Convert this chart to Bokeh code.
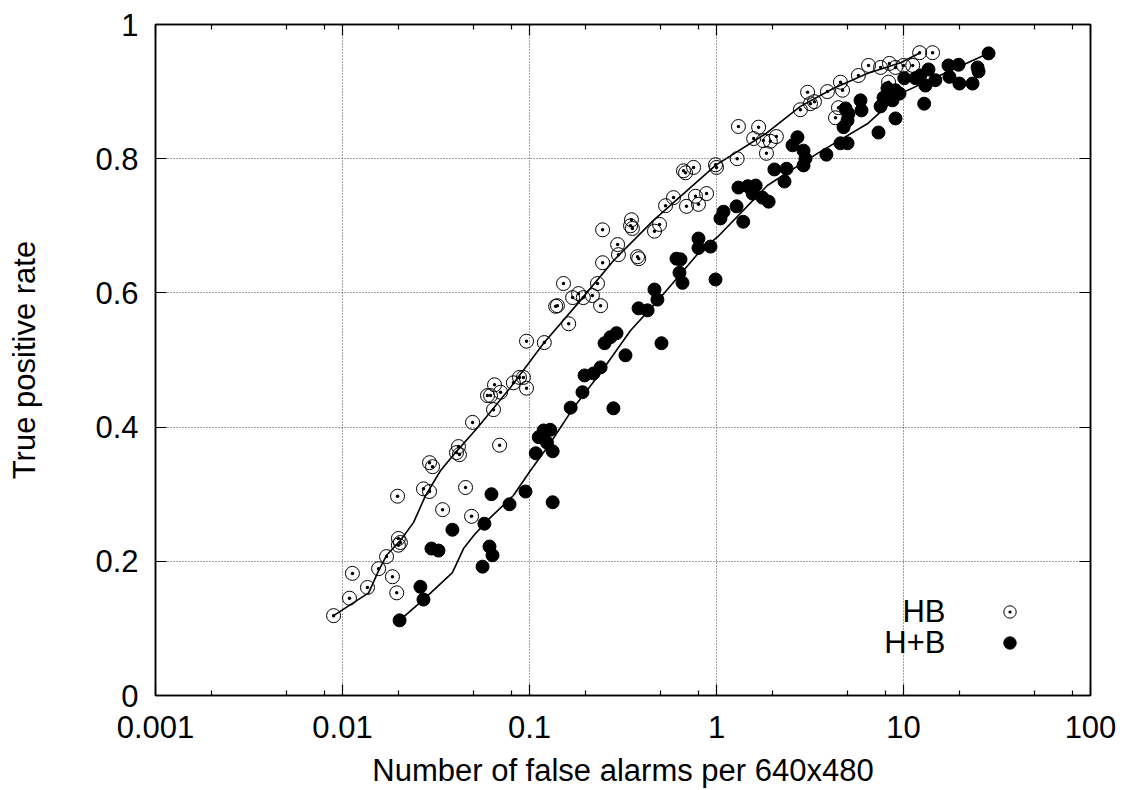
from bokeh.plotting import figure
from bokeh.models import (Range1d, FixedTicker, LogAxis, LinearAxis, CustomJSTickFormatter,
                          Legend, LegendItem, Label)
from bokeh.core.properties import value
from bokeh.embed import file_html
from bokeh.resources import INLINE

# ---------------- data ----------------
x_ticks = [0.001, 0.01, 0.1, 1, 10, 100]
x_tick_labels = ["0.001", "0.01", "0.1", "1", "10", "100"]
y_ticks = [0, 0.2, 0.4, 0.6, 0.8, 1]
y_tick_labels = ["0", "0.2", "0.4", "0.6", "0.8", "1"]
series_names = ["HB", "H+B"]

hb_x = [0.00896, 0.0109, 0.0113, 0.0136, 0.0156, 0.0172, 0.0185, 0.0195, 0.0199, 0.0204,
        0.0199, 0.0197, 0.0292, 0.0303, 0.0271, 0.0292, 0.0343, 0.0417, 0.0422, 0.0407,
        0.0455, 0.0490, 0.0692, 0.0496, 0.0642, 0.0596, 0.0619, 0.0650, 0.0700, 0.0820,
        0.0884, 0.0928, 0.0964, 0.0964, 0.120, 0.162, 0.138, 0.141, 0.152, 0.170,
        0.183, 0.194, 0.217, 0.231, 0.240, 0.246, 0.246, 0.296, 0.299, 0.347,
        0.355, 0.378, 0.384, 0.466, 0.496, 0.351, 0.534, 0.589, 0.666, 0.683,
        0.754, 0.691, 0.772, 0.801, 0.885, 0.988, 1.00, 1.29, 1.31, 1.58,
        1.68, 1.78, 1.85, 1.94, 2.09, 2.81, 3.07, 3.34, 3.92, 4.33,
        4.49, 4.60, 4.72, 5.74, 6.50, 7.54, 8.32, 8.41, 9.06, 10.0,
        11.2, 12.2, 14.3, 3.18]
hb_y = [0.119, 0.145, 0.182, 0.161, 0.189, 0.207, 0.177, 0.153, 0.234, 0.228,
        0.224, 0.297, 0.347, 0.341, 0.308, 0.304, 0.277, 0.371, 0.359, 0.362,
        0.310, 0.267, 0.373, 0.407, 0.426, 0.447, 0.447, 0.463, 0.452, 0.466,
        0.474, 0.474, 0.458, 0.528, 0.526, 0.554, 0.580, 0.581, 0.614, 0.593,
        0.599, 0.593, 0.596, 0.614, 0.581, 0.645, 0.694, 0.672, 0.657, 0.700,
        0.696, 0.654, 0.651, 0.692, 0.702, 0.709, 0.730, 0.742, 0.782, 0.779,
        0.787, 0.729, 0.744, 0.732, 0.748, 0.791, 0.787, 0.800, 0.848, 0.830,
        0.847, 0.827, 0.808, 0.826, 0.833, 0.873, 0.899, 0.885, 0.900, 0.861,
        0.876, 0.914, 0.902, 0.924, 0.939, 0.936, 0.914, 0.942, 0.936, 0.939,
        0.939, 0.958, 0.958, 0.882]

hpb_x = [0.0202, 0.0271, 0.0261, 0.0387, 0.0299, 0.0326, 0.0626, 0.0782, 0.0952, 0.0574,
         0.0611, 0.0634, 0.0561, 0.108, 0.112, 0.119, 0.129, 0.133, 0.124, 0.133,
         0.166, 0.192, 0.197, 0.220, 0.240, 0.281, 0.326, 0.252, 0.271, 0.292,
         0.383, 0.428, 0.466, 0.483, 0.508, 0.611, 0.642, 0.634, 0.658, 0.801,
         0.801, 0.988, 0.929, 1.05, 1.09, 1.28, 1.39, 1.31, 1.47, 1.62,
         1.56, 1.76, 1.90, 2.04, 2.37, 2.31, 2.55, 2.71, 2.92, 2.99,
         2.92, 3.87, 4.60, 5.02, 4.78, 5.02, 5.08, 4.90, 5.89, 5.96,
         7.35, 7.54, 7.82, 8.21, 8.73, 9.06, 9.52, 9.06, 10.1, 11.6,
         12.3, 13.6, 13.1, 14.8, 12.9, 17.4, 19.7, 17.6, 19.9, 23.4,
         24.9, 25.2, 28.5]
hpb_y = [0.112, 0.143, 0.162, 0.247, 0.219, 0.216, 0.300, 0.285, 0.304, 0.256,
         0.222, 0.209, 0.192, 0.361, 0.385, 0.395, 0.396, 0.364, 0.377, 0.288,
         0.429, 0.452, 0.477, 0.480, 0.489, 0.428, 0.507, 0.525, 0.534, 0.540,
         0.577, 0.574, 0.605, 0.590, 0.525, 0.651, 0.650, 0.630, 0.615, 0.681,
         0.667, 0.620, 0.669, 0.711, 0.721, 0.729, 0.706, 0.757, 0.759, 0.760,
         0.748, 0.742, 0.736, 0.784, 0.785, 0.766, 0.820, 0.832, 0.812, 0.800,
         0.790, 0.806, 0.823, 0.823, 0.847, 0.857, 0.867, 0.875, 0.887, 0.872,
         0.839, 0.878, 0.891, 0.905, 0.887, 0.902, 0.897, 0.860, 0.920, 0.920,
         0.924, 0.933, 0.909, 0.917, 0.882, 0.939, 0.940, 0.922, 0.912, 0.912,
         0.936, 0.930, 0.957]

# smooth fitted curves
hb_curve_x = [0.00896, 0.0138, 0.0156, 0.0172, 0.0204, 0.0240, 0.0278, 0.0334, 0.0402, 0.0527,
              0.0791, 0.119, 0.181, 0.281, 0.460, 0.988, 1.85, 2.81, 4.23, 6.41, 9.64, 12.3]
hb_curve_y = [0.119, 0.153, 0.186, 0.209, 0.231, 0.258, 0.298, 0.335, 0.362, 0.399,
              0.459, 0.525, 0.584, 0.648, 0.708, 0.790, 0.838, 0.878, 0.905, 0.927, 0.943, 0.958]
hpb_curve_x = [0.0202, 0.0271, 0.0387, 0.0444, 0.0502, 0.0596, 0.0820, 0.101, 0.129, 0.172,
               0.240, 0.347, 0.502, 0.821, 1.01, 1.87, 3.47, 6.41, 9.64, 14.5, 19.4, 28.5]
hpb_curve_y = [0.112, 0.143, 0.183, 0.219, 0.238, 0.261, 0.298, 0.335, 0.376, 0.429,
               0.481, 0.544, 0.593, 0.663, 0.683, 0.760, 0.808, 0.852, 0.897, 0.920, 0.936, 0.957]

# ---------------- figure ----------------
FONT = "Liberation Sans"
FS = "31px"

p = figure(width=1116, height=790, x_axis_type="log",
           x_range=Range1d(0.001, 100), y_range=Range1d(0, 1),
           output_backend="svg", toolbar_location=None,
           min_border_left=155, min_border_right=26, min_border_top=24, min_border_bottom=95)
p.background_fill_color = "white"
p.border_fill_color = "white"
p.outline_line_color = "black"
p.outline_line_width = 1.5

minor_x = [m * 10.0 ** e for e in range(-3, 2) for m in (2, 5, 8)]
xt = FixedTicker(ticks=x_ticks, minor_ticks=minor_x)
yt = FixedTicker(ticks=y_ticks, minor_ticks=[])

fmt_code = """
const i = tk.findIndex(t => Math.abs(t - tick) <= 1e-9 * Math.max(1, Math.abs(t)));
return i >= 0 ? lbls[i] : '';
"""
xfmt = CustomJSTickFormatter(args=dict(tk=x_ticks, lbls=x_tick_labels), code=fmt_code)
yfmt = CustomJSTickFormatter(args=dict(tk=y_ticks, lbls=y_tick_labels), code=fmt_code)
blank = CustomJSTickFormatter(code="return '';")


def style_axis(ax):
    ax.axis_line_color = "black"
    ax.axis_line_width = 1.5
    ax.major_tick_line_color = "black"
    ax.minor_tick_line_color = "black"
    ax.major_tick_line_width = 1.2
    ax.minor_tick_line_width = 1.2
    ax.major_tick_in = 11
    ax.major_tick_out = 0
    ax.minor_tick_in = 5
    ax.minor_tick_out = 0
    ax.major_label_text_font = FONT
    ax.major_label_text_font_size = FS
    ax.major_label_text_color = "black"
    ax.axis_label_text_font = FONT
    ax.axis_label_text_font_size = FS
    ax.axis_label_text_font_style = "normal"
    ax.axis_label_text_color = "black"


xa = p.xaxis[0]
xa.ticker = xt
xa.formatter = xfmt
xa.axis_label = "Number of false alarms per 640x480"
style_axis(xa)
xa.major_label_standoff = 20
xa.axis_label_standoff = 12

ya = p.yaxis[0]
ya.ticker = yt
ya.formatter = yfmt
ya.axis_label = "True positive rate"
style_axis(ya)
ya.major_label_standoff = 17
ya.axis_label_standoff = 50

top = LogAxis(ticker=xt, formatter=blank)
style_axis(top)
top.major_label_standoff = 0
p.add_layout(top, "above")

right = LinearAxis(ticker=yt, formatter=blank)
style_axis(right)
right.major_label_standoff = 0
p.add_layout(right, "right")

p.xgrid.ticker = xt
p.ygrid.ticker = yt
for g in (p.xgrid[0], p.ygrid[0]):
    g.grid_line_color = "#444444"
    g.grid_line_dash = "1 2"
    g.grid_line_width = 1

# curves
p.line(hb_curve_x, hb_curve_y, line_color="black", line_width=1.6)
p.line(hpb_curve_x, hpb_curve_y, line_color="black", line_width=1.6)

# points
r_hb = p.scatter(hb_x, hb_y, marker="circle_dot", size=14, fill_color=None,
                 line_color="black", line_width=1)
r_hpb = p.scatter(hpb_x, hpb_y, marker="circle", size=13, fill_color="black",
                  line_color="black", line_width=1)

# legend: symbols via Legend, texts on their left as in the original
legend = Legend(items=[LegendItem(label=value(" "), renderers=[r_hb]),
                       LegendItem(label=value(" "), renderers=[r_hpb])],
                location=(839, 37), padding=0, margin=0, spacing=0,
                glyph_width=31, glyph_height=31, label_height=20, label_width=1,
                label_standoff=0, label_text_font_size="13px",
                border_line_color=None, background_fill_alpha=0)
p.add_layout(legend, "center")

for name, ys in zip(series_names, (84.5, 53)):
    p.add_layout(Label(x=790, y=ys, x_units="screen", y_units="screen", text=name,
                       text_align="right", text_baseline="middle",
                       text_font=FONT, text_font_size=FS, text_color="black"))

open("out.html", "w").write(file_html(p, INLINE))
